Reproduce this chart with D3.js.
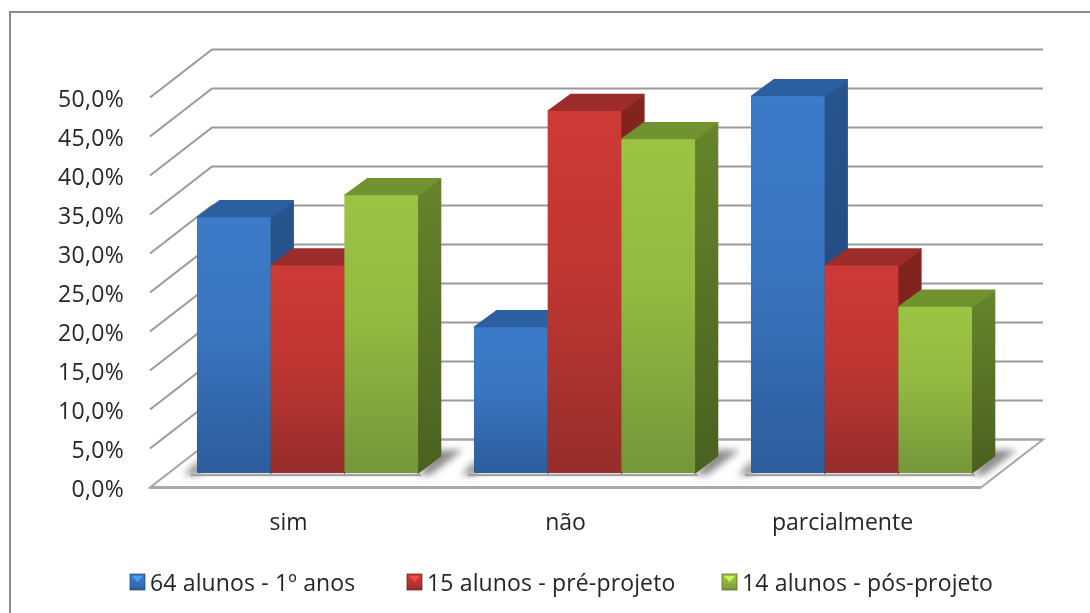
<!DOCTYPE html>
<html><head><meta charset="utf-8">
<script src="https://cdn.jsdelivr.net/npm/d3@7"></script>
<style>html,body{margin:0;background:#fff;overflow:hidden}svg{display:block;filter:blur(.45px)}</style>
</head><body><svg id="c" width="1090" height="613"></svg>
<script>
const categories=["sim","não","parcialmente"];
const seriesNames=["64 alunos - 1º anos","15 alunos - pré-projeto","14 alunos - pós-projeto"];
const blueValues=[32.8,18.7,48.3];
const redValues=[26.6,46.4,26.6];
const greenValues=[35.6,42.8,21.3];
const tickValues=[0,5,10,15,20,25,30,35,40,45,50];
const palette=[
 {front:["#3c7bc9","#3a75bf","#2c5c9c"],top:"#2c5f9f",side:["#27558f","#1f4474"]},
 {front:["#cd3a37","#c03633","#962d2b"],top:"#9c2d2a",side:["#85241f","#651b18"]},
 {front:["#9cc444","#93b941","#75963a"],top:"#71932f",side:["#67842c","#4a6020"]}
];
const svg=d3.select("#c");
const defs=svg.append("defs");
const ink="#262626",fam="'Open Sans',sans-serif",fs=23;
palette.forEach((p,i)=>{
 const f=defs.append("linearGradient").attr("id","f"+i).attr("x1",0).attr("x2",0).attr("y1",0).attr("y2",1);
 f.append("stop").attr("offset",0).attr("stop-color",p.front[0]);
 f.append("stop").attr("offset",.45).attr("stop-color",p.front[1]);
 f.append("stop").attr("offset",1).attr("stop-color",p.front[2]);
 const s=defs.append("linearGradient").attr("id","s"+i).attr("x1",0).attr("x2",0).attr("y1",0).attr("y2",1);
 s.append("stop").attr("offset",0).attr("stop-color",p.side[0]);
 s.append("stop").attr("offset",1).attr("stop-color",p.side[1]);
});
const blur=defs.append("filter").attr("id","sh").attr("filterUnits","userSpaceOnUse").attr("x",0).attr("y",400).attr("width",1090).attr("height",120);
blur.append("feGaussianBlur").attr("stdDeviation",3.5);

svg.append("path").attr("d","M10,613V12H1090").attr("fill","none").attr("stroke","#8c8c8c").attr("stroke-width",2);

const y=d3.scaleLinear().domain([0,50]).range([487.5,97.5]);
const x=d3.scaleBand().domain(categories).range([150,981]);
const wall={dx:62,dy:-48};
const barShift={dx:19,dy:-14.5};
const barDepth={dx:23,dy:-17};
const bw=73.7;

const floorPts=[[150,y(0)],[981,y(0)],[981+wall.dx,y(0)+wall.dy],[150+wall.dx,y(0)+wall.dy]];
svg.append("polygon").attr("points",floorPts.join(" ")).attr("fill","#fff").attr("stroke","#a6a6a6").attr("stroke-width",2);
svg.append("line").attr("x1",150).attr("x2",981).attr("y1",y(0)).attr("y2",y(0)).attr("stroke","#a8a8a8").attr("stroke-width",3);

const grid=svg.append("g").attr("fill","none").attr("stroke","#9a9a9a").attr("stroke-width",2);
grid.selectAll("polyline").data(tickValues.filter(d=>d>0)).join("polyline")
 .attr("points",d=>[[150,y(d)],[150+wall.dx,y(d)+wall.dy],[981+wall.dx,y(d)+wall.dy]].join(" "));
svg.append("line").attr("x1",150+wall.dx).attr("x2",981+wall.dx).attr("y1",y(0)+wall.dy).attr("y2",y(0)+wall.dy).attr("stroke","#a6a6a6").attr("stroke-width",2);

const fmt=d=>d3.format(".1f")(d).replace(".",",")+"%";
const yAxis=svg.append("g").attr("transform","translate(132,2)")
 .call(d3.axisLeft(y).tickValues(tickValues).tickFormat(fmt).tickSize(0).tickPadding(8));
yAxis.select(".domain").remove();
yAxis.selectAll("text").attr("font-family",fam).attr("font-size",fs).attr("letter-spacing",.3).attr("fill",ink);
const xAxis=svg.append("g").attr("transform","translate(0,530)")
 .call(d3.axisBottom(x).tickSize(0).tickPadding(0));
xAxis.select(".domain").remove();
xAxis.selectAll("text").attr("dy",0).attr("font-family",fam).attr("font-size",fs).attr("fill",ink);

const bar0=y(0)+barShift.dy;
const series=[blueValues,redValues,greenValues];
categories.forEach((c,ci)=>{
 const left=x(c)+barShift.dx+(x.bandwidth()-3*bw)/2;
 const g=svg.append("g");
 const frontRight=left+3*bw, right=frontRight+barDepth.dx;
 // cast shadow: behind the right side face, and a soft patch to the left of the group
 g.append("polygon").attr("points",[[frontRight,bar0+2],[frontRight+12,bar0+2],[right+22,bar0-23],[right-4,bar0-23]].join(" "))
  .attr("fill","#8c8c8c").attr("filter","url(#sh)");
 g.append("polygon").attr("points",[[left-13,bar0+2],[left+3,bar0+2],[left+3,bar0-14]].join(" "))
  .attr("fill","#8c8c8c").attr("filter","url(#sh)");
 g.append("line").attr("x1",left-6).attr("x2",frontRight+3).attr("y1",bar0+2).attr("y2",bar0+2).attr("stroke","#a4a4a4").attr("stroke-width",2.5);
 series.forEach((vals,si)=>{
  const x0=left+si*bw,x1=x0+bw,top=bar0-(y(0)-y(vals[ci])),d=barDepth;
  const round=s=>s.attr("stroke-linejoin","round").attr("stroke-width",1.5);
  g.append("polygon").attr("points",[[x1,top],[x1+d.dx-.5,top+d.dy+.5],[x1+d.dx-.5,bar0+d.dy],[x1,bar0]].join(" ")).attr("fill",`url(#s${si})`).attr("stroke",`url(#s${si})`).call(round);
  g.append("polygon").attr("points",[[x0+.5,top],[x0+d.dx,top+d.dy+.5],[x1+d.dx-.5,top+d.dy+.5],[x1,top]].join(" ")).attr("fill",palette[si].top).attr("stroke",palette[si].top).call(round);
  g.append("rect").attr("x",x0).attr("y",top).attr("width",bw).attr("height",bar0-top).attr("rx",1.5).attr("fill",`url(#f${si})`);
 });
});

const legendX=[130,407,722];
const leg=svg.append("g").selectAll("g").data(seriesNames).join("g").attr("transform",(d,i)=>`translate(${legendX[i]},574)`);
leg.append("rect").attr("width",15).attr("height",16).attr("fill",(d,i)=>`url(#f${i})`).attr("stroke",(d,i)=>palette[i].side[1]).attr("stroke-width",.7);
leg.append("polygon").attr("points","2,2 13,2 7.5,8").attr("fill",(d,i)=>palette[i].front[0]).attr("opacity",.85).style("filter","brightness(1.35)");
leg.append("text").attr("x",20).attr("y",17).attr("font-family",fam).attr("font-size",fs).attr("letter-spacing",.15).attr("fill",ink).text(d=>d);
</script></body></html>
